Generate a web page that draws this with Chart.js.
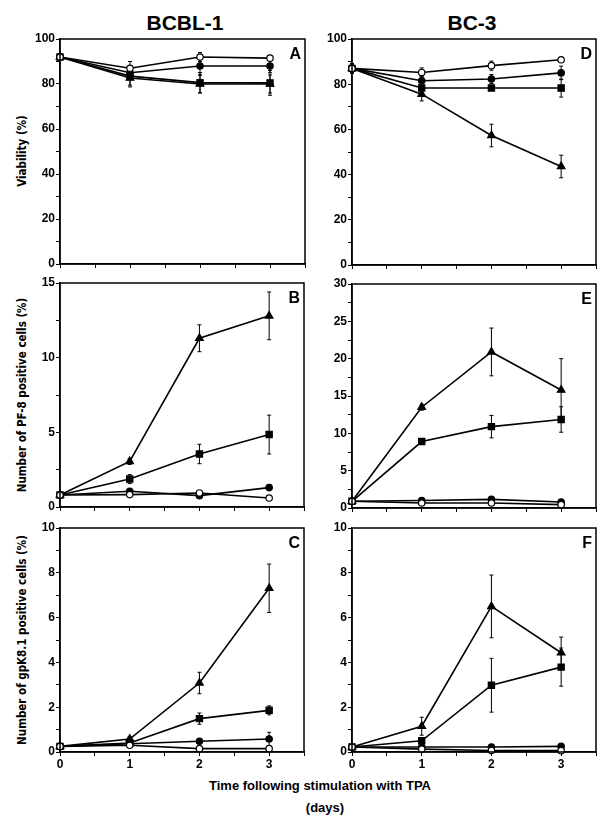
<!DOCTYPE html>
<html>
<head>
<meta charset="utf-8">
<script src="https://cdn.jsdelivr.net/npm/chart.js@4.4.1/dist/chart.umd.min.js"></script>
<style>
body { margin: 0; background: #fff; width: 611px; height: 822px; position: relative; overflow: hidden; font-family: "Liberation Sans", Arial, sans-serif; }
canvas { position: absolute; }
.t { position: absolute; white-space: nowrap; color: #000; }
.col { font-weight: bold; font-size: 21px; transform: translate(-50%, -50%); }
.ytitle { font-size: 11.5px; font-weight: bold; font-family: "Liberation Sans Narrow", "DejaVu Sans Condensed", "Liberation Sans", Arial, sans-serif; transform: translate(-50%, -50%) rotate(-90deg); }
.xtitle { font-weight: bold; font-size: 13px; transform: translate(-50%, -50%); }
</style>
</head>
<body>
<div class="t col" style="left:185px;top:23px">BCBL-1</div>
<div class="t col" style="left:472px;top:23px">BC-3</div>
<div class="t ytitle" style="left:22px;top:151px">Viability (%)</div>
<div class="t ytitle" style="left:22px;top:395px">Number of PF-8 positive cells (%)</div>
<div class="t ytitle" style="left:22px;top:640px">Number of gpK8.1 positive cells (%)</div>
<div class="t xtitle" style="left:320px;top:785px">Time following stimulation with TPA</div>
<div class="t xtitle" style="left:325px;top:807px">(days)</div>

<canvas id="pA"></canvas>
<canvas id="pB"></canvas>
<canvas id="pC"></canvas>
<canvas id="pD"></canvas>
<canvas id="pE"></canvas>
<canvas id="pF"></canvas>

<script>
const days = [0, 1, 2, 3];

// A - BCBL-1 viability
const aOpen = [92, 87, 92, 91.5];
const aOpenErr = [1, 3, 2, 1];
const aFilled = [92, 85, 88, 88];
const aFilledErr = [1, 3, 4, 3];
const aSquare = [92, 83.5, 80.6, 80.5];
const aSquareErr = [1, 4, 4.5, 5.5];
const aTri = [92, 82.7, 80, 80];
const aTriErr = [1, 4, 4, 4];

// D - BC-3 viability
const dOpen = [87, 85.2, 88.2, 90.8];
const dOpenErr = [2, 2, 2, 1];
const dFilled = [87, 81.5, 82.3, 85];
const dFilledErr = [2, 2, 2, 3];
const dSquare = [87, 78.3, 78.3, 78.3];
const dSquareErr = [2, 3, 1, 4];
const dTri = [87, 75.6, 57.3, 43.6];
const dTriErr = [2, 3, 5, 5];

// B - BCBL-1 PF-8
const bOpen = [0.8, 0.83, 0.94, 0.6];
const bOpenErr = [0.1, 0.1, 0.15, 0.1];
const bFilled = [0.8, 1.05, 0.76, 1.3];
const bFilledErr = [0.1, 0.15, 0.1, 0.2];
const bSquare = [0.8, 1.87, 3.55, 4.85];
const bSquareErr = [0.1, 0.3, 0.65, 1.3];
const bTri = [0.8, 3.05, 11.3, 12.8];
const bTriErr = [0.1, 0.2, 0.9, 1.6];

// E - BC-3 PF-8
const eOpen = [0.9, 0.67, 0.67, 0.45];
const eOpenErr = [0.1, 0.1, 0.1, 0.1];
const eFilled = [0.9, 1.0, 1.16, 0.8];
const eFilledErr = [0.1, 0.1, 0.2, 0.2];
const eSquare = [0.9, 8.9, 10.9, 11.85];
const eSquareErr = [0.2, 0.3, 1.5, 1.7];
const eTri = [0.9, 13.5, 20.9, 15.8];
const eTriErr = [0.2, 0.4, 3.2, 4.2];

// C - BCBL-1 gpK8.1
const cOpen = [0.25, 0.3, 0.15, 0.15];
const cOpenErr = [0.03, 0.03, 0.03, 0.03];
const cFilled = [0.25, 0.37, 0.48, 0.58];
const cFilledErr = [0.05, 0.05, 0.1, 0.3];
const cSquare = [0.25, 0.4, 1.49, 1.86];
const cSquareErr = [0.05, 0.05, 0.25, 0.2];
const cTri = [0.25, 0.58, 3.08, 7.31];
const cTriErr = [0.05, 0.1, 0.48, 1.08];

// F - BC-3 gpK8.1
const fOpen = [0.22, 0.13, 0.07, 0.06];
const fOpenErr = [0.03, 0.03, 0.03, 0.03];
const fFilled = [0.22, 0.22, 0.22, 0.25];
const fFilledErr = [0.03, 0.05, 0.05, 0.05];
const fSquare = [0.22, 0.5, 2.98, 3.79];
const fSquareErr = [0.05, 0.1, 1.2, 0.85];
const fTri = [0.22, 1.15, 6.5, 4.43];
const fTriErr = [0.05, 0.4, 1.4, 0.7];

// marker looks
const styles = {
  open:   { pointStyle: 'circle',   pointRadius: 3.2, pointBackgroundColor: '#fff' },
  filled: { pointStyle: 'circle',   pointRadius: 3.2, pointBackgroundColor: '#000' },
  square: { pointStyle: 'rect',     pointRadius: 4.4, pointBackgroundColor: '#000' },
  tri:    { pointStyle: 'triangle', pointRadius: 4.4, pointBackgroundColor: '#000' }
};

const errorBars = {
  id: 'errorBars',
  beforeDatasetsDraw(chart) {
    const ctx = chart.ctx;
    const ys = chart.scales.y;
    ctx.save();
    ctx.strokeStyle = '#000';
    ctx.lineWidth = 1;
    chart.data.datasets.forEach((ds, di) => {
      const meta = chart.getDatasetMeta(di);
      ds.errors.forEach((e, i) => {
        const x = meta.data[i].x;
        const v = ds.data[i].y;
        const top = ys.getPixelForValue(v + e);
        const bot = ys.getPixelForValue(Math.max(v - e, 0));
        ctx.beginPath();
        ctx.moveTo(x, top); ctx.lineTo(x, bot);
        ctx.moveTo(x - 2, top); ctx.lineTo(x + 2, top);
        ctx.moveTo(x - 2, bot); ctx.lineTo(x + 2, bot);
        ctx.stroke();
      });
    });
    ctx.restore();
  }
};

const frame = {
  id: 'frame',
  afterDraw(chart, args, opts) {
    const a = chart.chartArea;
    const ctx = chart.ctx;
    ctx.save();
    ctx.strokeStyle = '#000';
    ctx.lineWidth = 1.5;
    ctx.strokeRect(a.left, a.top, a.right - a.left, a.bottom - a.top);
    ctx.font = 'bold 16px "Liberation Sans", Arial, sans-serif';
    ctx.fillStyle = '#000';
    ctx.textAlign = 'right';
    ctx.textBaseline = 'top';
    ctx.fillText(opts.letter, a.right - 4, a.top + 8);
    ctx.restore();
  }
};

function makePanel(id, box, letter, yMax, major, minor, showX, series) {
  const canvas = document.getElementById(id);
  const w = box.r - box.l;
  const h = box.b - box.t;
  canvas.width = w + 60;
  canvas.height = h + 32;
  canvas.style.left = (box.l - 50) + 'px';
  canvas.style.top = (box.t - 10) + 'px';

  const datasets = series.map(s => Object.assign({
    data: days.map((d, i) => ({ x: d, y: s.vals[i] })),
    errors: s.err,
    borderColor: '#000',
    borderWidth: 1.6,
    pointBorderColor: '#000',
    pointBorderWidth: 1.2,
    tension: 0,
    clip: false
  }, styles[s.look]));

  const tickFont = { family: '"Liberation Sans", Arial, sans-serif', weight: 'bold', size: 12 };

  new Chart(canvas, {
    type: 'line',
    data: { datasets: datasets },
    options: {
      responsive: false,
      animation: false,
      devicePixelRatio: 1,
      layout: { padding: { top: 10, right: 10, left: 0, bottom: 0 } },
      plugins: {
        legend: { display: false },
        tooltip: { enabled: false },
        frame: { letter: letter }
      },
      scales: {
        x: {
          type: 'linear', min: 0, max: 3.5,
          ticks: {
            stepSize: 0.5, autoSkip: false, maxRotation: 0, padding: 1,
            color: '#000', font: tickFont,
            callback: v => (showX && Number.isInteger(v)) ? String(v) : ''
          },
          grid: { drawOnChartArea: false, tickLength: 4, color: '#000', tickColor: '#000' },
          border: { color: '#000', width: 1.5 },
          afterFit: s => { s.height = 22; }
        },
        y: {
          min: 0, max: yMax,
          ticks: {
            stepSize: minor, autoSkip: false, padding: 1,
            color: '#000', font: tickFont,
            callback: v => (Math.abs(v % major) < 1e-6) ? String(v) : ''
          },
          grid: { drawOnChartArea: false, tickLength: 4, color: '#000', tickColor: '#000' },
          border: { color: '#000', width: 1.5 },
          afterFit: s => { s.width = 50; }
        }
      }
    },
    plugins: [errorBars, frame]
  });
}

makePanel('pA', { l: 60, t: 39, r: 305, b: 264 }, 'A', 100, 20, 10, false, [
  { vals: aOpen, err: aOpenErr, look: 'open' },
  { vals: aFilled, err: aFilledErr, look: 'filled' },
  { vals: aSquare, err: aSquareErr, look: 'square' },
  { vals: aTri, err: aTriErr, look: 'tri' }
]);
makePanel('pB', { l: 60, t: 283, r: 304, b: 507 }, 'B', 15, 5, 2.5, false, [
  { vals: bOpen, err: bOpenErr, look: 'open' },
  { vals: bFilled, err: bFilledErr, look: 'filled' },
  { vals: bSquare, err: bSquareErr, look: 'square' },
  { vals: bTri, err: bTriErr, look: 'tri' }
]);
makePanel('pC', { l: 60, t: 528, r: 304, b: 752 }, 'C', 10, 2, 1, true, [
  { vals: cOpen, err: cOpenErr, look: 'open' },
  { vals: cFilled, err: cFilledErr, look: 'filled' },
  { vals: cSquare, err: cSquareErr, look: 'square' },
  { vals: cTri, err: cTriErr, look: 'tri' }
]);
makePanel('pD', { l: 352, t: 39, r: 596, b: 265 }, 'D', 100, 20, 10, false, [
  { vals: dOpen, err: dOpenErr, look: 'open' },
  { vals: dFilled, err: dFilledErr, look: 'filled' },
  { vals: dSquare, err: dSquareErr, look: 'square' },
  { vals: dTri, err: dTriErr, look: 'tri' }
]);
makePanel('pE', { l: 352, t: 284, r: 596, b: 508 }, 'E', 30, 5, 2.5, false, [
  { vals: eOpen, err: eOpenErr, look: 'open' },
  { vals: eFilled, err: eFilledErr, look: 'filled' },
  { vals: eSquare, err: eSquareErr, look: 'square' },
  { vals: eTri, err: eTriErr, look: 'tri' }
]);
makePanel('pF', { l: 352, t: 528, r: 596, b: 752 }, 'F', 10, 2, 1, true, [
  { vals: fOpen, err: fOpenErr, look: 'open' },
  { vals: fFilled, err: fFilledErr, look: 'filled' },
  { vals: fSquare, err: fSquareErr, look: 'square' },
  { vals: fTri, err: fTriErr, look: 'tri' }
]);
</script>
</body>
</html>
